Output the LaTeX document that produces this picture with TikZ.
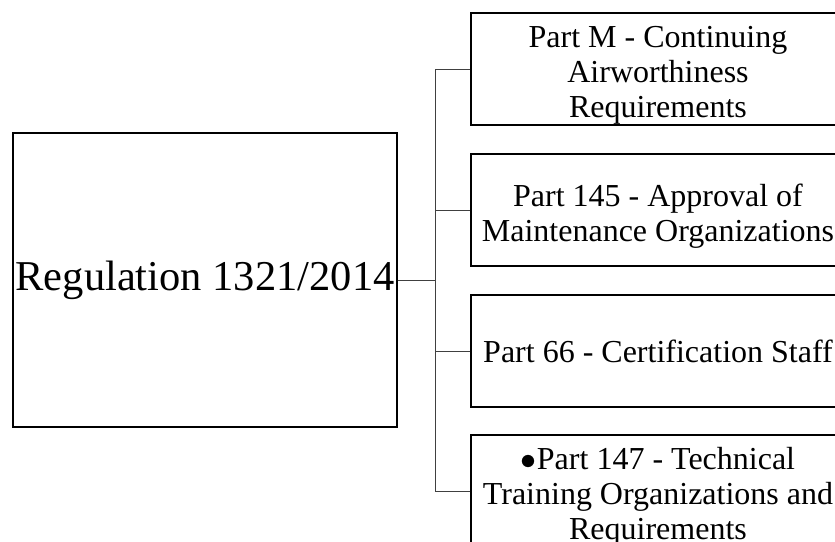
\documentclass[tikz,border=0pt]{standalone}
\usepackage{fix-cm}
\usepackage{fontspec}
\setmainfont{Liberation Serif}
\usepackage{tikz}

\newcommand{\topstrut}{\rule{0pt}{34pt}}

\begin{document}
\begin{tikzpicture}[x=1pt,y=1pt]
\tikzstyle{every node}+=[inner sep=0pt]
\tikzstyle{regbox}=[draw=black, line width=1.4pt, minimum width=384pt, minimum height=294pt, font=\fontsize{42.5}{48}\selectfont]
\tikzstyle{partbox}=[draw=black, line width=1.4pt, minimum width=374pt, minimum height=112pt, align=center, font=\fontsize{32}{35}\selectfont]
\tikzstyle{link}=[black!75, line width=0.8pt]
\useasboundingbox (0,0) rectangle (835,-541);
\clip (0,0) rectangle (835,-541);
\node [regbox] (reg) at (205,-280) {Regulation 1321/2014};
\node [partbox] (pm) at (658,-69) {\topstrut Part M - Continuing\\Airworthiness\\Requirements};
\node [partbox] (p145) at (658,-210) {\topstrut Part 145 - Approval of\\Maintenance Organizations};
\node [partbox] (p66) at (658,-351) {Part 66 - Certification Staff};
\node [partbox] (p147) at (658,-491) {\topstrut$\bullet$Part 147 - Technical\\Training Organizations and\\Requirements};
\coordinate (bus) at (435,-280);
\draw [link] (reg.east) -- (bus);
\draw [link] (pm.west) -| (bus);
\draw [link] (p145.west) -| (bus);
\draw [link] (p66.west) -| (bus);
\draw [link] (p147.west) -| (bus);
\end{tikzpicture}
\end{document}
